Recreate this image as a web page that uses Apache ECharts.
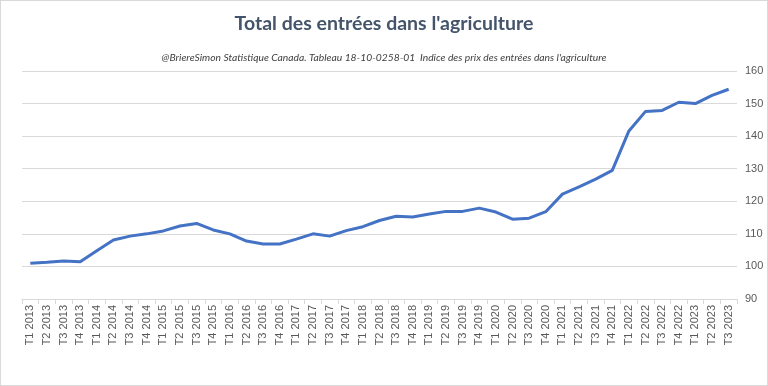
<!DOCTYPE html>
<html><head><meta charset="utf-8">
<script src="https://cdn.jsdelivr.net/npm/echarts@6/dist/echarts.min.js"></script>
<style>html,body{margin:0;padding:0;background:#fff}#c{width:766px;height:384px;border:1px solid #d9d9d9}</style>
</head><body><div id="c"></div>
<script>
const categories = ["T1 2013","T2 2013","T3 2013","T4 2013","T1 2014","T2 2014","T3 2014","T4 2014","T1 2015","T2 2015","T3 2015","T4 2015","T1 2016","T2 2016","T3 2016","T4 2016","T1 2017","T2 2017","T3 2017","T4 2017","T1 2018","T2 2018","T3 2018","T4 2018","T1 2019","T2 2019","T3 2019","T4 2019","T1 2020","T2 2020","T3 2020","T4 2020","T1 2021","T2 2021","T3 2021","T4 2021","T1 2022","T2 2022","T3 2022","T4 2022","T1 2023","T2 2023","T3 2023"];
const values = [101.0,101.3,101.7,101.4,104.8,108.1,109.3,110.0,110.9,112.4,113.2,111.2,110.0,107.8,106.9,106.9,108.4,110.0,109.3,111.0,112.2,114.1,115.4,115.2,116.1,116.9,116.9,117.9,116.7,114.5,114.8,116.8,122.2,124.4,126.8,129.5,141.6,147.6,147.9,150.4,150.0,152.5,154.4];
const title = "Total des entrées dans l'agriculture";
const subtitle = "@BriereSimon Statistique Canada. Tableau 18-10-0258-01  Indice des prix des entrées dans l'agriculture";
const chart = echarts.init(document.getElementById('c'));
chart.setOption({
  animation:false,
  title:[{text:title,left:'center',top:8,textStyle:{fontFamily:'Lato',fontWeight:'bold',fontSize:19.5,color:'#44546a'}},
         {text:subtitle,left:'center',top:47,textStyle:{fontFamily:'Lato',fontStyle:'italic',fontWeight:'normal',fontSize:10.3,color:'#404040'}}],
  grid:{left:21,right:30,top:70,bottom:86},
  xAxis:{type:'category',data:categories,boundaryGap:true,
    axisLine:{lineStyle:{color:'#d9d9d9'}},
    axisTick:{show:true,length:5,lineStyle:{color:'#d9d9d9'}},
    axisLabel:{rotate:90,interval:0,fontFamily:'Liberation Sans',fontSize:11,color:'#595959',margin:6}},
  yAxis:{type:'value',position:'right',min:90,max:160,interval:10,
    axisLine:{show:false},axisTick:{show:false},
    splitLine:{lineStyle:{color:'#d9d9d9'}},
    axisLabel:{fontFamily:'Liberation Sans',fontSize:11,color:'#595959',margin:8}},
  series:[{type:'line',data:values,symbol:'none',lineStyle:{color:'#4472c4',width:3}}]
});
</script></body></html>
